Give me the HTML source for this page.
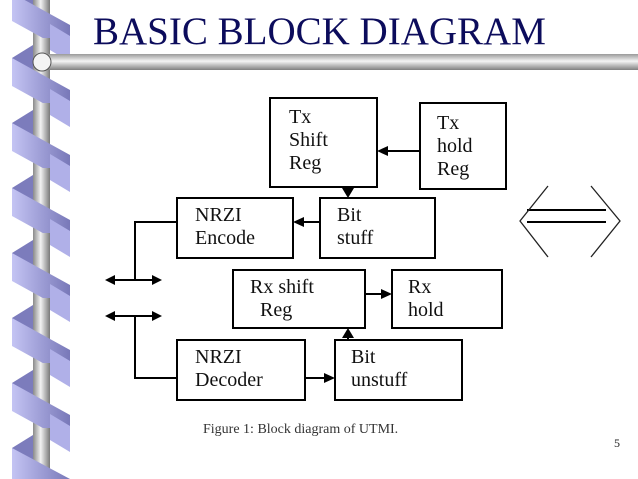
<!DOCTYPE html>
<html><head><style>
html,body{margin:0;padding:0;background:#fff;}
body{width:638px;height:479px;position:relative;overflow:hidden;font-family:"Liberation Serif",serif;}
.t{position:absolute;font-size:20px;line-height:23px;color:#111;}
</style></head><body>
<svg width="638" height="479" viewBox="0 0 638 479" style="position:absolute;left:0;top:0;overflow:hidden">
<defs>
<linearGradient id="rod" x1="0" x2="1" y1="0" y2="0">
<stop offset="0" stop-color="#8a8a8a"/><stop offset="0.45" stop-color="#f2f2f2"/><stop offset="1" stop-color="#7a7a7a"/></linearGradient>
<linearGradient id="bar" x1="0" x2="0" y1="0" y2="1">
<stop offset="0" stop-color="#9a9a9a"/><stop offset="0.45" stop-color="#f4f4f4"/><stop offset="1" stop-color="#808080"/></linearGradient>
<linearGradient id="band" x1="0" x2="1" y1="0" y2="0">
<stop offset="0" stop-color="#c4c4f4"/><stop offset="1" stop-color="#7878b8"/></linearGradient>
<g id="turn">
<polygon points="12,0 33,-13 33,14 12,14" fill="#7c7cbc"/>
<polygon points="50,-34 70,-22 70,4 50,-8" fill="#b0b0e8"/>
<rect x="33" y="-20" width="17" height="70" fill="url(#rod)"/>
<polygon points="12,0 70,32 70,60 12,28" fill="url(#band)"/>
</g>
</defs>
<rect x="33" y="0" width="17" height="479" fill="url(#rod)"/>
<use href="#turn" y="-7"/>
<use href="#turn" y="58"/><use href="#turn" y="123"/><use href="#turn" y="188"/><use href="#turn" y="253"/><use href="#turn" y="318"/><use href="#turn" y="383"/>
<polygon points="12,448 33,435 33,462 12,462" fill="#7c7cbc"/>
<polygon points="50,414 70,426 70,452 50,440" fill="#b0b0e8"/>
<rect x="33" y="428" width="17" height="51" fill="url(#rod)"/>
<polygon points="12,448 70,479 12,479" fill="url(#band)"/>
<rect x="40" y="54" width="598" height="16" fill="url(#bar)"/>
<circle cx="42" cy="62" r="9" fill="#f4f4f4" stroke="#555" stroke-width="1"/>
<g fill="none" stroke="#000" stroke-width="2">
<rect x="270" y="98" width="107" height="89"/>
<rect x="420" y="103" width="86" height="86"/>
<rect x="177" y="198" width="116" height="60"/>
<rect x="320" y="198" width="115" height="60"/>
<rect x="233" y="270" width="132" height="58"/>
<rect x="392" y="270" width="110" height="58"/>
<rect x="177" y="340" width="128" height="60"/>
<rect x="335" y="340" width="127" height="60"/>
<line x1="420" y1="151" x2="384" y2="151"/>
<line x1="348" y1="187" x2="348" y2="191"/>
<line x1="320" y1="222" x2="300" y2="222"/>
<line x1="365" y1="294" x2="385" y2="294"/>
<line x1="348" y1="340" x2="348" y2="336"/>
<line x1="305" y1="378" x2="328" y2="378"/>
<polyline points="177,222 135,222 135,280"/>
<line x1="112" y1="280" x2="154" y2="280"/>
<polyline points="177,378 135,378 135,316"/>
<line x1="112" y1="316" x2="154" y2="316"/>
<line x1="527" y1="210" x2="606" y2="210"/>
<line x1="527" y1="222" x2="606" y2="222"/>
</g>
<g fill="none" stroke="#222" stroke-width="1.3">
<polyline points="548,186 520,221 548,257"/>
<polyline points="591,186 620,221 591,257"/>
</g>
<g fill="#000">
<polygon points="377,151 388,146 388,156"/>
<polygon points="348,198 342,188 354,188"/>
<polygon points="293,222 304,217 304,227"/>
<polygon points="392,294 381,289 381,299"/>
<polygon points="348,328 342,338 354,338"/>
<polygon points="335,378 324,373 324,383"/>
<polygon points="105,280 115,275 115,285"/><polygon points="162,280 152,275 152,285"/>
<polygon points="105,316 115,311 115,321"/><polygon points="162,316 152,311 152,321"/>
</g>
</svg>
<div style="position:absolute;left:93px;top:9px;font-size:39px;line-height:46px;color:#0c0c5c;white-space:nowrap">BASIC BLOCK DIAGRAM</div>
<div class="t" style="left:289px;top:106px">Tx<br>Shift<br>Reg</div>
<div class="t" style="left:437px;top:112px">Tx<br>hold<br>Reg</div>
<div class="t" style="left:195px;top:204px">NRZI<br>Encode</div>
<div class="t" style="left:337px;top:204px">Bit<br>stuff</div>
<div class="t" style="left:250px;top:276px">Rx shift<br>&nbsp;&nbsp;Reg</div>
<div class="t" style="left:408px;top:276px">Rx<br>hold</div>
<div class="t" style="left:195px;top:346px">NRZI<br>Decoder</div>
<div class="t" style="left:351px;top:346px">Bit<br>unstuff</div>
<div style="position:absolute;left:203px;top:422px;font-size:14px;line-height:16px;color:#333;white-space:nowrap">Figure 1: Block diagram of UTMI.</div>
<div style="position:absolute;left:614px;top:436px;font-size:12px;line-height:14px;color:#222">5</div>
</body></html>
